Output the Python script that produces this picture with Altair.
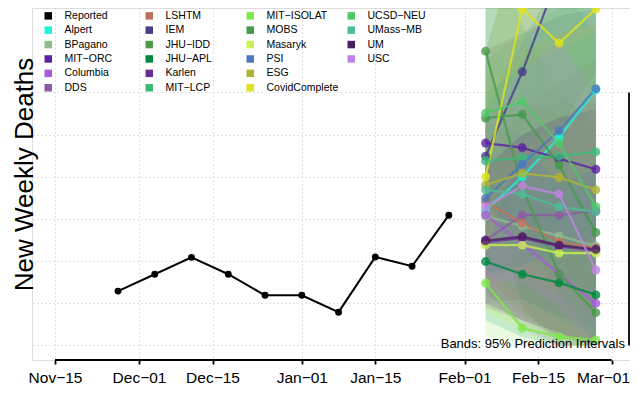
import altair as alt
import pandas as pd

M = "\u2212"

# ---- reported series ----
rep_dates = ["2021-11-27", "2021-12-04", "2021-12-11", "2021-12-18", "2021-12-25",
             "2022-01-01", "2022-01-08", "2022-01-15", "2022-01-22", "2022-01-29"]
rep_vals = [129, 169, 209, 169, 119, 119, 79, 210, 188, 309]

# ---- forecast models ----
models = ["Alpert", "BPagano", f"MIT{M}ORC", "Columbia", "DDS", "LSHTM", "IEM",
          f"JHU{M}IDD", f"JHU{M}APL", "Karlen", f"MIT{M}LCP", f"MIT{M}ISOLAT", "MOBS",
          "Masaryk", "PSI", "ESG", "CovidComplete", f"UCSD{M}NEU", f"UMass{M}MB", "UM", "USC"]
model_colors = ["#1ef2d8", "#8fbc8f", "#5b22a3", "#a95bdb", "#8b5ba5", "#c0705a", "#473d8b",
                "#4a9a4a", "#008a40", "#6a2f94", "#3cba78", "#7ee84a", "#429a4c",
                "#c8f050", "#4a78be", "#b0b432", "#dfe31a", "#50c868", "#4dbd98", "#4c1d62", "#c184e4"]

fc_dates = ["2022-02-05", "2022-02-12", "2022-02-19", "2022-02-26"]

# point forecasts per week (models order)
wk1 = [320, 307, 480, 310, 250, 341, 449, 698, 199, 245, 438, 148, 539, 238, 349, 381, 400, 551, 369, 249, 329]
wk2 = [400, 283, 469, 241, 309, 290, 649, 373, 169, 255, 445, 41, 548, 238, 430, 408, 798, 578, 359, 258, 378]
wk3 = [493, 260, 443, 170, 309, 246, 883, 170, 149, 235, 449, 21, 428, 219, 509, 399, 717, 480, 329, 238, 359]
wk4 = [606, 236, 418, 100, 319, 231, 1100, 78, 120, 225, 459, 13, 268, 219, 609, 369, 798, 329, 317, 228, 179]

# 95% prediction interval bounds per week (models order)
lo1 = [150, 120, 300, 130, 100, 160, 250, 420, 60, 90, 250, 20, 330, 80, 170, 200, 220, 340, 180, 100, 150]
hi1 = [520, 520, 700, 520, 440, 560, 700, 1000, 380, 430, 680, 330, 820, 420, 560, 600, 640, 830, 600, 420, 540]
lo2 = [190, 70, 230, 40, 110, 80, 400, 90, 20, 60, 200, 0, 270, 40, 190, 170, 480, 290, 110, 60, 150]
hi2 = [680, 540, 740, 500, 560, 560, 980, 760, 380, 500, 740, 280, 900, 480, 720, 700, 1150, 940, 660, 500, 660]
lo3 = [230, 30, 170, 0, 70, 20, 520, 0, 0, 20, 160, 0, 120, 10, 220, 120, 380, 150, 60, 30, 90]
hi3 = [850, 580, 780, 460, 620, 560, 1350, 600, 400, 540, 800, 260, 860, 520, 880, 740, 1150, 900, 700, 540, 720]
lo4 = [270, 0, 120, 0, 40, 0, 650, 0, 0, 0, 130, 0, 0, 0, 260, 80, 420, 0, 20, 0, 0]
hi4 = [1050, 620, 800, 420, 680, 580, 1700, 520, 380, 580, 860, 240, 740, 560, 1050, 760, 1300, 820, 740, 560, 600]

# axis ticks
x_ticks = [(2021, 11, 15), (2021, 12, 1), (2021, 12, 15), (2022, 1, 1), (2022, 1, 15),
           (2022, 2, 1), (2022, 2, 15), (2022, 3, 1)]
y_ticks = [0, 100, 200, 300, 400, 500, 600]

# legend order (filled column by column, 6 rows; one empty slot)
legend_order = ["Reported"] + models + ["_b1"]

# ---- build tables ----
rows = []
weeks = [wk1, wk2, wk3, wk4]
los = [lo1, lo2, lo3, lo4]
his = [hi1, hi2, hi3, hi4]
for i, m in enumerate(models):
    for w, d in enumerate(fc_dates):
        rows.append({"model": m, "date": d, "val": weeks[w][i], "lo": los[w][i], "hi": his[w][i]})
df_fc = pd.DataFrame(rows)
df_rep = pd.DataFrame({"model": "Reported", "date": rep_dates, "val": rep_vals})

cmap = dict(zip(models, model_colors))
cmap["Reported"] = "#000000"
cmap["_b1"] = "transparent"
cscale = alt.Scale(domain=legend_order, range=[cmap[k] for k in legend_order])

FONT = "Liberation Sans"

leg = alt.Legend(orient="none", legendX=11, legendY=2.5, columns=4, gridAlign="all",
                 symbolType="square", symbolSize=56, symbolStrokeWidth=0, symbolOpacity=1,
                 labelFont=FONT, labelFontSize=10.5, labelColor="black", labelOffset=11,
                 rowPadding=3.4, columnPadding=7, padding=0, title=None,
                 labelExpr="datum.label === '_b1' ? '' : datum.label")

xscale = alt.Scale(type="utc", nice=False,
                   domain=[alt.DateTime(year=2021, month=11, date=10, hours=14, minutes=53, utc=True),
                           alt.DateTime(year=2022, month=3, date=4, hours=12, minutes=6, utc=True)])
xaxis = alt.Axis(values=[alt.DateTime(year=a, month=b, date=c, utc=True) for a, b, c in x_ticks],
                 labelExpr=f"utcFormat(datum.value, '%b') + '{M}' + utcFormat(datum.value, '%d')",
                 domain=False, ticks=True, tickSize=4, tickWidth=1.8, tickColor="black",
                 grid=True, gridDash=[1, 3], gridColor="#c4c4c4", gridWidth=1,
                 labelFont=FONT, labelFontSize=15.5, labelColor="black", labelPadding=6.3,
                 labelOffset={"condition": {"test": "utcmonth(datum.value) === 2", "value": -8.5}, "value": 0},
                 labelFlush=False, labelOverlap=False, title=None)

yscale = alt.Scale(domain=[-34.4, 800.3], nice=False, zero=False)
yaxis = alt.Axis(orient="right", values=y_ticks, domain=False, labels=False,
                 ticks=True, tickSize=7, tickWidth=1.8, tickColor="black",
                 grid=True, gridDash=[1, 3], gridColor="#c4c4c4", gridWidth=1,
                 title="New Weekly Deaths", titleFont=FONT, titleFontSize=26,
                 titleFontWeight="normal", titleColor="black", titleAngle=270,
                 titleAlign="center", titleBaseline="alphabetic", titleX=-598, titleY=166)


def X(field="date"):
    return alt.X(f"{field}:T", scale=xscale, axis=xaxis, title=None)


def Y(field):
    return alt.Y(f"{field}:Q", scale=yscale, axis=yaxis, title="New Weekly Deaths")


def C():
    return alt.Color("model:N", scale=cscale, legend=leg)


rep_points = alt.Chart(df_rep).mark_circle(size=48, opacity=1).encode(x=X(), y=Y("val"), color=C())
rep_line = alt.Chart(df_rep).mark_line(strokeWidth=2).encode(x=X(), y=Y("val"), color=C())
bands = alt.Chart(df_fc).mark_area(opacity=0.16).encode(x=X(), y=Y("lo"), y2="hi:Q", color=C())
fc_lines = alt.Chart(df_fc).mark_line(strokeWidth=2.2, opacity=0.8).encode(x=X(), y=Y("val"), color=C())
fc_points = alt.Chart(df_fc).mark_circle(size=80, opacity=0.8).encode(x=X(), y=Y("val"), color=C())

xline_df = pd.DataFrame({"a": ["%04d-%02d-%02d" % x_ticks[0]], "b": ["%04d-%02d-%02d" % x_ticks[-1]]})
xline = alt.Chart(xline_df).mark_rule(strokeWidth=1.8, color="black").encode(
    x=X("a"), x2="b:T", y=alt.value(352))
yline_df = pd.DataFrame({"lo": [y_ticks[0]], "hi": [y_ticks[-1]]})
yline = alt.Chart(yline_df).mark_rule(strokeWidth=1.8, color="black").encode(
    y=Y("lo"), y2="hi:Q", x=alt.value(597))

note = alt.Chart(pd.DataFrame({"t": ["Bands: 95% Prediction Intervals"]})).mark_text(
    align="right", baseline="alphabetic", fontSize=13, font=FONT, color="black").encode(
    text="t:N", x=alt.value(593), y=alt.value(340))

chart = alt.layer(rep_points, rep_line, bands, fc_lines, fc_points, xline, yline, note).properties(
    width=598, height=352,
    autosize=alt.AutoSizeParams(type="none"),
    padding={"left": 24, "top": 0, "right": 0, "bottom": 26},
).configure_view(stroke=None).configure(font=FONT)

chart.save("out.html", embed_options={"renderer": "svg", "actions": False})
